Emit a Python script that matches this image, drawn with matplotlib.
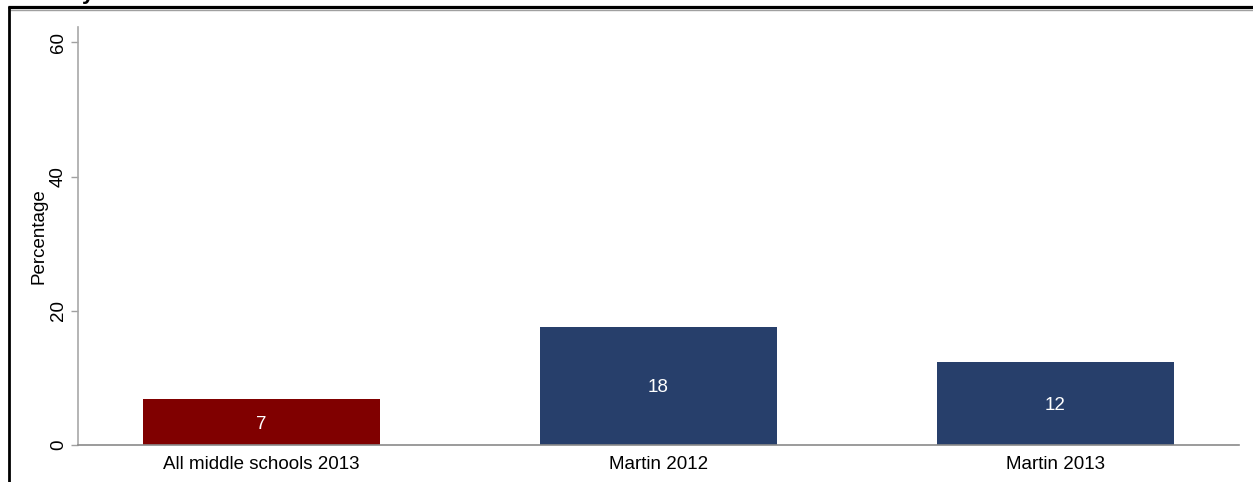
import matplotlib
matplotlib.use("Agg")
import matplotlib.pyplot as plt
from matplotlib.lines import Line2D

categories = ["All middle schools 2013", "Martin 2012", "Martin 2013"]
values = [6.8, 17.6, 12.3]
value_labels = ["7", "18", "12"]
bar_colors = ["#800000", "#273F6B", "#273F6B"]
yticks = [0, 20, 40, 60]

plt.rcParams['font.family'] = ['Liberation Sans', 'DejaVu Sans']

W, H = 1253, 482
fig = plt.figure(figsize=(W / 100, H / 100), dpi=100)
ax = fig.add_axes([78 / W, (H - 445) / H, (1239 - 78) / W, (445 - 27) / H])

fs = 13.5
x = list(range(len(categories)))
bars = ax.bar(x, values, width=0.597, color=bar_colors, edgecolor='none')
for b, lab in zip(bars, value_labels):
    ax.text(b.get_x() + b.get_width() / 2, b.get_height() / 2, lab,
            ha='center', va='center_baseline', color='white', fontsize=fs)

ax.set_xlim(-0.462, 2.462)
ax.set_ylim(0, 62.3)
ax.set_xticks(x)
ax.set_xticklabels(categories, fontsize=fs)
ax.tick_params(axis='x', length=0, pad=8)
ax.set_yticks(yticks)
ax.set_yticklabels([str(t) for t in yticks], rotation=90, va='center', fontsize=fs)
ax.tick_params(axis='y', length=5, width=1, color='#a0a0a0', pad=3)
ax.set_ylabel("Percentage", fontsize=fs, labelpad=2)

for s in ['top', 'right']:
    ax.spines[s].set_visible(False)
ax.spines['left'].set_color('#a8a8a8')
ax.spines['bottom'].set_color('#8a8a8a')
ax.spines['left'].set_linewidth(1.2)
ax.spines['bottom'].set_linewidth(1.2)

# frame fragments of the screenshot
fig.add_artist(Line2D([8 / W, 1.0], [1 - 7 / H, 1 - 7 / H], color='black', lw=2.3,
                      transform=fig.transFigure, solid_capstyle='butt'))
fig.add_artist(Line2D([10 / W, 1.0], [1 - 9.5 / H, 1 - 9.5 / H], color='#a0a0a0', lw=1,
                      transform=fig.transFigure, solid_capstyle='butt'))
fig.add_artist(Line2D([8.5 / W, 8.5 / W], [0, 1 - 6 / H], color='black', lw=2.0,
                      transform=fig.transFigure, solid_capstyle='butt'))

# clipped fragment of a title above the screenshot
fig.text(88 / W, 1.003, "y", fontsize=16, fontweight='bold', ha='center', va='baseline')

fig.savefig("out.png", dpi=100)
